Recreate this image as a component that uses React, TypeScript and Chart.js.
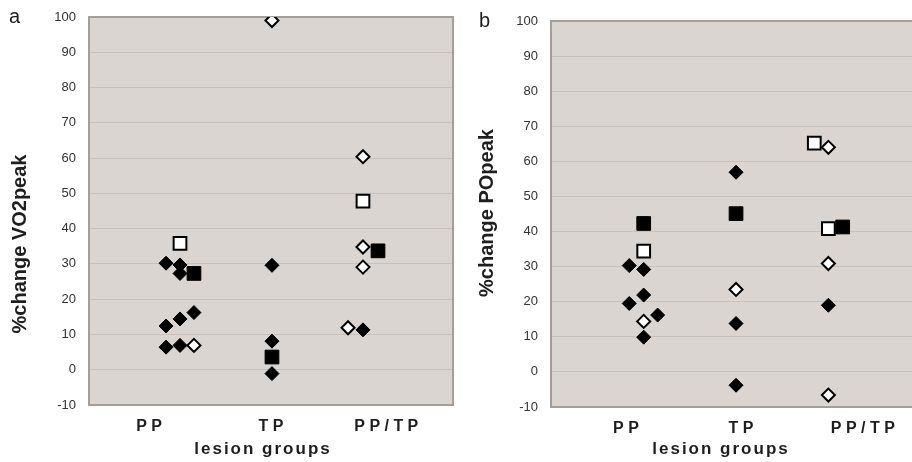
import React, { useEffect, useRef } from "react";
import { Chart, registerables } from "chart.js";
Chart.register(...registerables);

// ---- data ----
const categories = ["P P", "T P", "P P / T P"];
const yMin = -10;
const yMax = 100;
const yStep = 10;

// category label positions on the x scale (PP = 1, TP = 2, PP/TP = 3)
const vo2TickPos = [0.995, 2.0, 2.95];
const poTickPos = [1.118, 2.066, 3.07];

// Panel a: %change VO2peak  [x position, value]
const vo2FilledDiamonds = [
  [1.135, 30.2], [1.25, 29.7], [1.25, 27.3], [1.135, 12.4], [1.25, 14.4], [1.365, 16.2],
  [1.135, 6.4], [1.25, 6.9], [2.008, 29.6], [2.008, 8.1], [2.008, -1.1], [2.758, 11.3],
];
const vo2OpenDiamonds = [
  [1.365, 6.9], [2.008, 99], [2.758, 60.4], [2.758, 34.8], [2.758, 29.1], [2.635, 11.9],
];
const vo2FilledSquares = [[1.365, 27.3], [2.008, 3.6], [2.882, 33.7]];
const vo2OpenSquares = [[1.25, 35.8], [2.758, 47.8]];

// Panel b: %change POpeak
const poFilledDiamonds = [
  [1.145, 30.3], [1.264, 29.2], [1.264, 21.9], [1.145, 19.5], [1.379, 16.2], [1.264, 9.9],
  [2.025, 56.9], [2.025, 13.8], [2.025, -3.8], [2.786, 19.0],
];
const poOpenDiamonds = [[1.264, 14.4], [2.025, 23.5], [2.786, 64.0], [2.786, 30.9], [2.786, -6.6]];
const poFilledSquares = [[1.264, 42.3], [2.025, 45.1], [2.904, 41.3]];
const poOpenSquares = [[1.264, 34.4], [2.67, 65.2], [2.786, 40.8]];

// ---- styles ----
const BG = "#dad5d1";
const GRID = "#c7c1bd";
const FRAME = "#a59d99";
const FONT = "'Liberation Sans', Arial, sans-serif";
const PAD_TOP = 21;
const PAD_RIGHT = 11;

const plotFrame = {
  id: "plotFrame",
  beforeDraw(chart: any) {
    const { ctx, chartArea } = chart;
    const { left, top, right, bottom } = chartArea;
    ctx.save();
    ctx.fillStyle = BG;
    ctx.fillRect(left, top, right - left, bottom - top);
    ctx.restore();
  },
  beforeDatasetsDraw(chart: any) {
    const { ctx, chartArea } = chart;
    const { left, top, right, bottom } = chartArea;
    ctx.save();
    ctx.strokeStyle = FRAME;
    ctx.lineWidth = 2;
    ctx.strokeRect(left, top, right - left, bottom - top);
    ctx.restore();
  },
};

function toPts(arr: number[][]) {
  return arr.map(([x, y]) => ({ x, y }));
}

function makeDatasets(fd: number[][], od: number[][], fs: number[][], os: number[][]) {
  return [
    {
      label: "filled diamond",
      data: toPts(fd),
      pointStyle: "rectRot",
      pointRadius: 7,
      backgroundColor: "#000",
      borderColor: "#000",
      borderWidth: 1,
    },
    {
      label: "open diamond",
      data: toPts(od),
      pointStyle: "rectRot",
      pointRadius: 6.5,
      backgroundColor: "#fff",
      borderColor: "#000",
      borderWidth: 2,
    },
    {
      label: "filled square",
      data: toPts(fs),
      pointStyle: "rect",
      pointRadius: 9.7,
      backgroundColor: "#000",
      borderColor: "#000",
      borderWidth: 1,
    },
    {
      label: "open square",
      data: toPts(os),
      pointStyle: "rect",
      pointRadius: 9,
      backgroundColor: "#fff",
      borderColor: "#000",
      borderWidth: 2,
    },
  ];
}

function Panel(props: {
  datasets: any[];
  tickPos: number[];
  yAxisWidth: number;
  xAxisHeight: number;
  width: number;
  left: number;
  top: number;
}) {
  const ref = useRef<HTMLCanvasElement>(null);
  useEffect(() => {
    if (!ref.current) return;
    const chart = new Chart(ref.current, {
      type: "scatter",
      data: { datasets: props.datasets },
      options: {
        animation: false,
        responsive: false,
        events: [],
        layout: { padding: { top: PAD_TOP, right: PAD_RIGHT, left: 0, bottom: 0 } },
        plugins: { legend: { display: false }, tooltip: { enabled: false } },
        scales: {
          x: {
            type: "linear",
            min: 0.5,
            max: 3.5,
            grid: { display: false, drawTicks: false },
            border: { display: false },
            afterBuildTicks: (scale: any) => {
              scale.ticks = props.tickPos.map((v) => ({ value: v }));
            },
            afterFit: (scale: any) => {
              scale.height = props.xAxisHeight;
            },
            ticks: {
              autoSkip: false,
              maxRotation: 0,
              padding: 12,
              color: "#1e1e1e",
              font: { family: FONT, size: 16, weight: "bold" },
              callback: (_v: any, i: number) => categories[i],
            },
          },
          y: {
            min: yMin,
            max: yMax,
            grid: { color: GRID, lineWidth: 1, drawTicks: false },
            border: { display: false },
            afterFit: (scale: any) => {
              scale.width = props.yAxisWidth;
            },
            ticks: {
              stepSize: yStep,
              padding: 13,
              color: "#333",
              font: { family: FONT, size: 13 },
            },
          },
        },
      },
      plugins: [plotFrame],
    } as any);
    return () => chart.destroy();
  }, []);
  return (
    <canvas
      ref={ref}
      width={props.width}
      height={462}
      style={{ position: "absolute", left: props.left, top: props.top, width: props.width, height: 462 }}
    />
  );
}

const textBase: React.CSSProperties = {
  position: "absolute",
  fontFamily: FONT,
  color: "#1e1e1e",
  whiteSpace: "nowrap",
};

export default function App() {
  return (
    <div
      style={{
        position: "fixed",
        left: 0,
        top: 0,
        width: 912,
        height: 462,
        overflow: "hidden",
        background: "#fff",
      }}
    >
      <Panel
        datasets={makeDatasets(vo2FilledDiamonds, vo2OpenDiamonds, vo2FilledSquares, vo2OpenSquares)}
        tickPos={vo2TickPos}
        yAxisWidth={89}
        xAxisHeight={53}
        width={464}
        left={0}
        top={-4}
      />
      <Panel
        datasets={makeDatasets(poFilledDiamonds, poOpenDiamonds, poFilledSquares, poOpenSquares)}
        tickPos={poTickPos}
        yAxisWidth={95}
        xAxisHeight={55}
        width={470}
        left={456}
        top={0}
      />
      <div style={{ ...textBase, left: 9, top: 6, fontSize: 20, lineHeight: "20px" }}>a</div>
      <div style={{ ...textBase, left: 479, top: 10, fontSize: 20, lineHeight: "20px" }}>b</div>
      <div
        style={{
          ...textBase,
          left: 19,
          top: 244,
          fontSize: 20,
          fontWeight: "bold",
          lineHeight: "20px",
          transform: "translate(-50%, -50%) rotate(-90deg)",
        }}
      >
        %change VO2peak
      </div>
      <div
        style={{
          ...textBase,
          left: 486,
          top: 213,
          fontSize: 20,
          fontWeight: "bold",
          lineHeight: "20px",
          transform: "translate(-50%, -50%) rotate(-90deg)",
        }}
      >
        %change POpeak
      </div>
      <div
        style={{
          ...textBase,
          left: 263,
          top: 440,
          fontSize: 17,
          fontWeight: "bold",
          lineHeight: "17px",
          letterSpacing: 2,
          transform: "translateX(-50%)",
        }}
      >
        lesion groups
      </div>
      <div
        style={{
          ...textBase,
          left: 721,
          top: 440,
          fontSize: 17,
          fontWeight: "bold",
          lineHeight: "17px",
          letterSpacing: 2,
          transform: "translateX(-50%)",
        }}
      >
        lesion groups
      </div>
    </div>
  );
}
